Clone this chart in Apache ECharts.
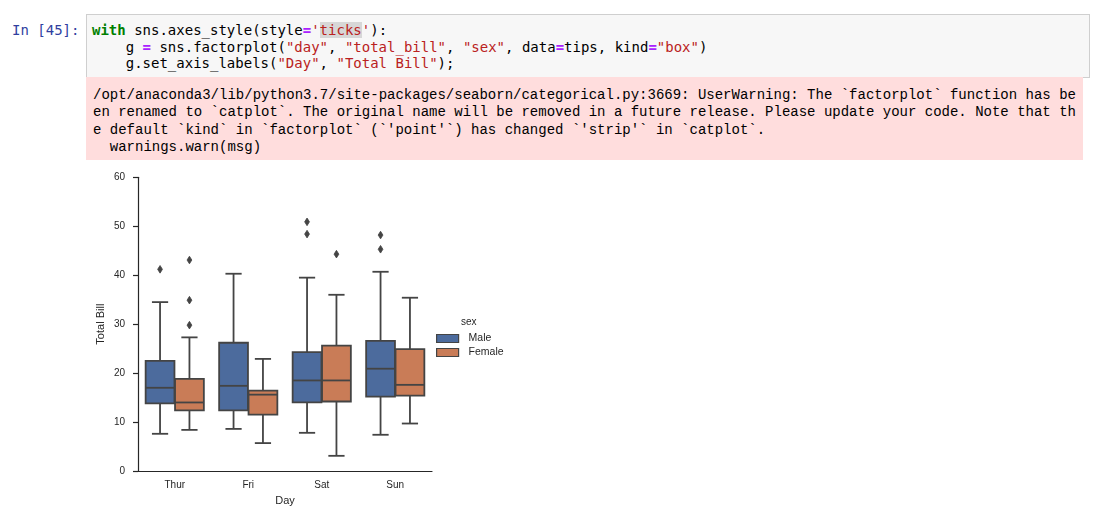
<!DOCTYPE html>
<html>
<head>
<meta charset="utf-8">
<script src="https://cdn.jsdelivr.net/npm/echarts@6/dist/echarts.min.js"></script>
<style>
  html, body { margin: 0; padding: 0; background: #fff; }
  body { width: 1096px; height: 523px; position: relative; overflow: hidden; }
  .prompt {
    position: absolute; left: 12px; top: 22px;
    font: 14px/17px "DejaVu Sans Mono", monospace; color: #303F9F;
  }
  .code {
    position: absolute; left: 86px; top: 14px; width: 997px; height: 55px;
    padding: 7px 0 0 5px; background: #f7f7f7; border: 1px solid #cfcfcf;
    font: 14px/16.7px "DejaVu Sans Mono", monospace; color: #000; white-space: pre;
  }
  .code .k { color: #008000; font-weight: bold; }
  .code .o { color: #AA22FF; font-weight: bold; }
  .code .s { color: #BA2121; }
  .code .hl { background: rgba(0,0,0,0.13); }
  .stderr {
    position: absolute; left: 86px; top: 77px; width: 990px; height: 73px;
    padding: 10px 0 0 7px; background: #fdd;
    font: 14px/17.3px "Liberation Mono", monospace; color: #000; white-space: pre;
  }
  #main { position: absolute; left: 0; top: 165px; width: 560px; height: 358px; }
</style>
</head>
<body>
<div class="prompt">In [45]:</div>
<div class="code"><span class="k">with</span> sns.axes_style(style<span class="o">=</span><span class="s">'<span class="hl">ticks</span>'</span>):
    g <span class="o">=</span> sns.factorplot(<span class="s">"day"</span>, <span class="s">"total_bill"</span>, <span class="s">"sex"</span>, data<span class="o">=</span>tips, kind<span class="o">=</span><span class="s">"box"</span>)
    g.set_axis_labels(<span class="s">"Day"</span>, <span class="s">"Total Bill"</span>);</div>
<div class="stderr">/opt/anaconda3/lib/python3.7/site-packages/seaborn/categorical.py:3669: UserWarning: The `factorplot` function has be
en renamed to `catplot`. The original name will be removed in a future release. Please update your code. Note that th
e default `kind` in `factorplot` (`'point'`) has changed `'strip'` in `catplot`.
  warnings.warn(msg)</div>
<div id="main"></div>
<script>
// 数据
var days = ['Thur', 'Fri', 'Sat', 'Sun'];
// [min, q1, median, q3, max]
var maleBox = [
    [7.6, 13.8, 17.0, 22.5, 34.5],
    [8.6, 12.4, 17.4, 26.2, 40.3],
    [7.8, 14.0, 18.5, 24.3, 39.5],
    [7.4, 15.2, 20.9, 26.6, 40.7]
];
var femaleBox = [
    [8.4, 12.4, 14.0, 18.8, 27.3],
    [5.7, 11.5, 15.6, 16.4, 22.9],
    [3.1, 14.2, 18.5, 25.6, 36.0],
    [9.7, 15.4, 17.6, 24.9, 35.4]
];
// [day index, value]
var maleOutliers = [[0, 41.2], [2, 50.9], [2, 48.4], [3, 48.2], [3, 45.3]];
var femaleOutliers = [[0, 43.1], [0, 34.9], [0, 29.8], [2, 44.3]];
var yTicks = [0, 10, 20, 30, 40, 50, 60];

var EDGE = '#444444';
var LW = 1.8;
var TEXT = '#262626';
var FONT = '"Liberation Sans", Arial, sans-serif';

function boxRender(offset) {
    return function (params, api) {
        var cat = api.value(0);
        var band = api.size([1, 0])[0];
        var cx = api.coord([cat, 0])[0] + offset * band;
        var w = band * 0.392;
        var cw = w * 0.5;
        var yMin = api.coord([cat, api.value(1)])[1];
        var yQ1 = api.coord([cat, api.value(2)])[1];
        var yMed = api.coord([cat, api.value(3)])[1];
        var yQ3 = api.coord([cat, api.value(4)])[1];
        var yMax = api.coord([cat, api.value(5)])[1];
        var line = { stroke: EDGE, lineWidth: LW };
        var cap = { stroke: EDGE, lineWidth: LW, lineCap: 'square' };
        return {
            type: 'group',
            children: [
                { type: 'line', shape: { x1: cx, y1: yQ3, x2: cx, y2: yMax }, style: line },
                { type: 'line', shape: { x1: cx, y1: yQ1, x2: cx, y2: yMin }, style: line },
                { type: 'line', shape: { x1: cx - cw / 2, y1: yMax, x2: cx + cw / 2, y2: yMax }, style: cap },
                { type: 'line', shape: { x1: cx - cw / 2, y1: yMin, x2: cx + cw / 2, y2: yMin }, style: cap },
                { type: 'rect', shape: { x: cx - w / 2, y: yQ3, width: w, height: yQ1 - yQ3 },
                  style: { fill: api.visual('color'), stroke: EDGE, lineWidth: LW } },
                { type: 'line', shape: { x1: cx - w / 2, y1: yMed, x2: cx + w / 2, y2: yMed }, style: line }
            ]
        };
    };
}

function flierRender(offset) {
    return function (params, api) {
        var cat = api.value(0);
        var band = api.size([1, 0])[0];
        var p = api.coord([cat, api.value(1)]);
        var x = p[0] + offset * band, y = p[1];
        var hw = 2.4, hh = 3.8;
        return {
            type: 'polygon',
            shape: { points: [[x, y - hh], [x + hw, y], [x, y + hh], [x - hw, y]] },
            style: { fill: EDGE, stroke: EDGE, lineWidth: 0.8 }
        };
    };
}

var myChart = echarts.init(document.getElementById('main'));
option = {
    animation: false,
    title: {
        text: 'sex',
        left: 461,
        top: 152,
        padding: 0,
        textStyle: { fontSize: 10, fontWeight: 'normal', color: TEXT, fontFamily: FONT }
    },
    legend: {
        data: ['Male', 'Female'],
        orient: 'vertical',
        left: 436,
        top: 168,
        padding: 0,
        itemWidth: 22,
        itemHeight: 8,
        itemGap: 3,
        icon: 'rect',
        itemStyle: { borderColor: EDGE, borderWidth: 1.2 },
        textStyle: { fontSize: 10.5, color: TEXT, fontFamily: FONT, padding: [0, 0, 0, 5] }
    },
    grid: { left: 138, top: 12.3, width: 294, height: 293.7 },
    xAxis: {
        type: 'category',
        data: days,
        boundaryGap: true,
        name: 'Day',
        nameLocation: 'middle',
        nameGap: 24,
        nameTextStyle: { fontSize: 11, color: TEXT, fontFamily: FONT },
        axisLine: { lineStyle: { color: TEXT, width: 1.2 } },
        axisTick: { alignWithLabel: true, length: 5, lineStyle: { color: TEXT, width: 1.2 } },
        axisLabel: { fontSize: 10, color: TEXT, fontFamily: FONT, margin: 9 },
        splitLine: { show: false }
    },
    yAxis: {
        type: 'value',
        min: yTicks[0],
        max: yTicks[yTicks.length - 1],
        interval: 10,
        name: 'Total Bill',
        nameLocation: 'middle',
        nameGap: 32,
        nameMoveOverlap: false,
        nameRotate: 90,
        nameTextStyle: { fontSize: 11, color: TEXT, fontFamily: FONT },
        axisLine: { show: true, lineStyle: { color: TEXT, width: 1.2 } },
        axisTick: { show: true, length: 5, lineStyle: { color: TEXT, width: 1.2 } },
        axisLabel: { fontSize: 10, color: TEXT, fontFamily: FONT, margin: 13 },
        splitLine: { show: false }
    },
    series: [
        {
            name: 'Male',
            type: 'custom',
            renderItem: boxRender(-0.2),
            itemStyle: { color: '#4c6b9d' },
            encode: { x: 0, y: [1, 2, 3, 4, 5] },
            data: maleBox.map(function (b, i) { return [i].concat(b); })
        },
        {
            name: 'Female',
            type: 'custom',
            renderItem: boxRender(0.2),
            itemStyle: { color: '#c97c57' },
            encode: { x: 0, y: [1, 2, 3, 4, 5] },
            data: femaleBox.map(function (b, i) { return [i].concat(b); })
        },
        {
            name: 'Male outliers',
            type: 'custom',
            renderItem: flierRender(-0.2),
            encode: { x: 0, y: 1 },
            data: maleOutliers
        },
        {
            name: 'Female outliers',
            type: 'custom',
            renderItem: flierRender(0.2),
            encode: { x: 0, y: 1 },
            data: femaleOutliers
        }
    ]
};
myChart.setOption(option);
</script>
</body>
</html>
